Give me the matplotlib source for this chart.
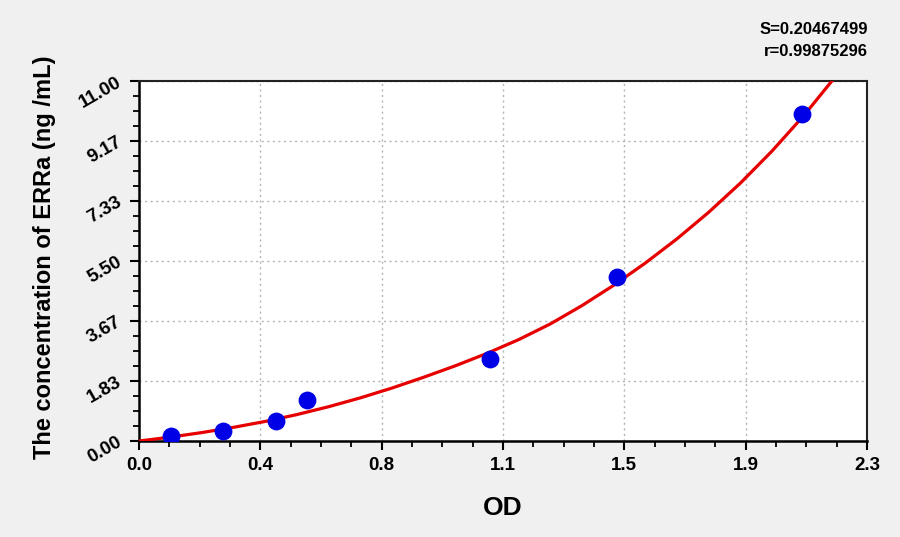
import numpy as np
import matplotlib
matplotlib.use("Agg")
import matplotlib.pyplot as plt
from matplotlib.ticker import AutoMinorLocator

BG = "#f0f0f0"

# standards: OD vs concentration (ng/mL)
od_values = [0.101, 0.266, 0.432, 0.530, 1.109, 1.509, 2.094]
conc_values = [0.156, 0.312, 0.625, 1.25, 2.50, 5.00, 10.00]

# fitted curve
curve_od = [0.0, 0.1, 0.2, 0.3, 0.4, 0.5, 0.6, 0.7, 0.8, 0.9, 1.0, 1.1,
            1.2, 1.3, 1.4, 1.5, 1.6, 1.7, 1.8, 1.9, 2.0, 2.1, 2.2]
curve_conc = [0.0, 0.12, 0.26, 0.42, 0.60, 0.81, 1.05, 1.32, 1.62, 1.95,
              2.30, 2.68, 3.10, 3.58, 4.14, 4.76, 5.44, 6.18, 6.99, 7.88,
              8.86, 9.94, 11.13]

x_ticks = [0.0, 2.3 / 6, 2.3 * 2 / 6, 2.3 * 3 / 6, 2.3 * 4 / 6, 2.3 * 5 / 6, 2.3]
x_labels = ["0.0", "0.4", "0.8", "1.1", "1.5", "1.9", "2.3"]
y_ticks = [0.0, 11 / 6, 11 * 2 / 6, 11 * 3 / 6, 11 * 4 / 6, 11 * 5 / 6, 11.0]
y_labels = ["0.00", "1.83", "3.67", "5.50", "7.33", "9.17", "11.00"]

stat_lines = ["S=0.20467499", "r=0.99875296"]

plt.rcParams["font.family"] = ["Liberation Sans", "DejaVu Sans"]
plt.rcParams["font.weight"] = "bold"

fig = plt.figure(figsize=(9, 5.37), dpi=100, facecolor=BG)
ax = fig.add_axes([139 / 900, 1 - 441 / 537, 728 / 900, 360 / 537])
ax.set_facecolor("white")

ax.plot(curve_od, curve_conc, color="#e60000", lw=2.3, zorder=3,
        solid_joinstyle="round", solid_capstyle="round")
ax.scatter(od_values, conc_values, s=165, color="#0000e6", zorder=4, lw=0)

ax.set_xlim(0, 2.3)
ax.set_ylim(0, 11)
ax.set_xticks(x_ticks)
ax.set_xticklabels(x_labels)
ax.set_yticks(y_ticks)
ax.set_yticklabels(y_labels)
ax.xaxis.set_minor_locator(AutoMinorLocator(4))
ax.yaxis.set_minor_locator(AutoMinorLocator(4))

ax.grid(True, which="major", color="#b4b4b4", ls=(0, (1.5, 2.5)), lw=1.0)
ax.set_axisbelow(True)

ax.tick_params(which="major", direction="out", length=6.5, width=1.5,
               labelsize=13.5, top=False, right=False)
ax.tick_params(axis="x", which="major", pad=5)
ax.tick_params(axis="y", which="major", pad=7)
ax.tick_params(which="minor", direction="out", length=4, width=1.3,
               top=False, right=False)
plt.setp(ax.get_yticklabels(), rotation=30, ha="right", va="center",
         rotation_mode="anchor", fontweight="bold")
plt.setp(ax.get_xticklabels(), fontweight="bold")

for side in ["left", "bottom"]:
    ax.spines[side].set_linewidth(1.8)
    ax.spines[side].set_color("black")
for side in ["top", "right"]:
    ax.spines[side].set_linewidth(1.5)
    ax.spines[side].set_color("#222222")

ax.set_xlabel("OD", fontsize=19, fontweight="bold")
ax.xaxis.set_label_coords(0.5, -67 / 360)
ax.xaxis.label.set_va("center")
ax.set_ylabel("The concentration of ERRa (ng /mL)", fontsize=17,
              fontweight="bold")
ax.yaxis.set_label_coords(-94 / 728, 0.51)
ax.yaxis.label.set_va("center")

fig.text(868 / 900, 1 - 29 / 537, stat_lines[0], ha="right", va="center",
         fontsize=12, fontweight="bold")
fig.text(868 / 900, 1 - 51 / 537, stat_lines[1], ha="right", va="center",
         fontsize=12, fontweight="bold")

fig.savefig("out.png", dpi=100, facecolor=BG)
